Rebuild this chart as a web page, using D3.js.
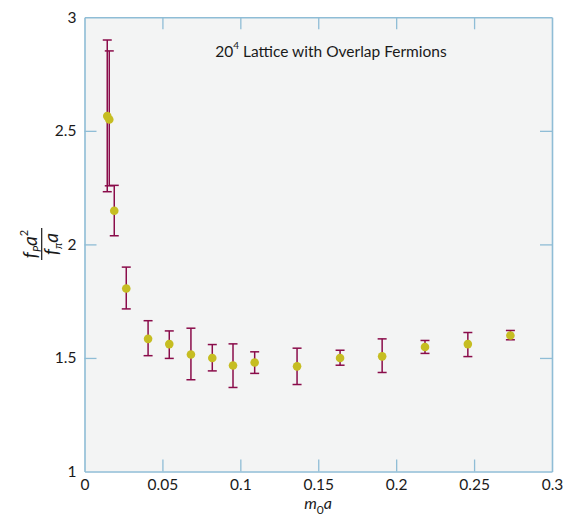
<!DOCTYPE html>
<html>
<head>
<meta charset="utf-8">
<script src="https://cdn.jsdelivr.net/npm/d3@7"></script>
<style>
  html, body { margin: 0; padding: 0; background: #ffffff; }
  svg { display: block; }
  text { font-family: Lato, "Open Sans", sans-serif; fill: #1a1a1a; }
</style>
</head>
<body>
<svg id="chart" width="565" height="519"></svg>
<script>
// ---- data ----
const massValues = [0.0146, 0.0159, 0.0191, 0.0268, 0.0408, 0.0544, 0.0683, 0.0820, 0.0953, 0.1092, 0.1364, 0.1640, 0.1910, 0.2185, 0.2460, 0.2733];
const ratioValues = [2.565, 2.550, 2.148, 1.806, 1.584, 1.561, 1.515, 1.500, 1.467, 1.480, 1.463, 1.500, 1.507, 1.548, 1.561, 1.599];
const errorUpper = [2.900, 2.852, 2.260, 1.900, 1.664, 1.619, 1.631, 1.559, 1.562, 1.527, 1.543, 1.534, 1.584, 1.577, 1.612, 1.621];
const errorLower = [2.232, 2.258, 2.038, 1.716, 1.510, 1.498, 1.404, 1.443, 1.370, 1.432, 1.383, 1.468, 1.436, 1.520, 1.506, 1.580];
const xTickValues = [0, 0.05, 0.1, 0.15, 0.2, 0.25, 0.3];
const xTickLabels = ["0", "0.05", "0.1", "0.15", "0.2", "0.25", "0.3"];
const yTickValues = [1, 1.5, 2, 2.5, 3];
const yTickLabels = ["1", "1.5", "2", "2.5", "3"];

const points = massValues.map((m, i) => ({ m, r: ratioValues[i], hi: errorUpper[i], lo: errorLower[i] }));

// ---- layout ----
const plotL = 84.5, plotR = 552, plotT = 17.3, plotB = 471.5;
const axisColor = "#8fbdd6";
const barColor = "#8a0c4a";
const dotColor = "#c6bd22";
const fontFam = "Lato, 'Open Sans', sans-serif";

const svg = d3.select("#chart");
const x = d3.scaleLinear().domain([0, 0.3]).range([plotL, plotR]);
const y = d3.scaleLinear().domain([1, 3]).range([plotB, plotT]);

// plot background
svg.append("rect")
  .attr("x", plotL).attr("y", plotT)
  .attr("width", plotR - plotL).attr("height", plotB - plotT)
  .attr("fill", "#f3f4f4");

const tickLen = 12;
const xTickFmt = d => xTickLabels[xTickValues.indexOf(d)];
const yTickFmt = d => yTickLabels[yTickValues.indexOf(d)];

function styleAxis(g) {
  g.select(".domain").attr("stroke", axisColor).attr("stroke-width", 1.6);
  g.selectAll(".tick line").attr("stroke", axisColor).attr("stroke-width", 1.3);
  g.selectAll(".tick text").attr("fill", "#1a1a1a").style("font-size", "15.5px")
    .style("font-family", fontFam);
}

// bottom axis
const gx = svg.append("g").attr("transform", `translate(0,${plotB})`)
  .call(d3.axisBottom(x).tickValues(xTickValues).tickFormat(xTickFmt)
    .tickSizeInner(-tickLen).tickSizeOuter(0));
styleAxis(gx);
gx.selectAll(".tick text").attr("y", 18).attr("dy", null);
gx.selectAll(".tick line").filter(d => d === 0 || d === 0.3).remove();

// top axis
const gxt = svg.append("g").attr("transform", `translate(0,${plotT})`)
  .call(d3.axisTop(x).tickValues(xTickValues).tickFormat("")
    .tickSizeInner(-tickLen).tickSizeOuter(0));
styleAxis(gxt);
gxt.selectAll(".tick line").filter(d => d === 0 || d === 0.3).remove();

// left axis
const gy = svg.append("g").attr("transform", `translate(${plotL},0)`)
  .call(d3.axisLeft(y).tickValues(yTickValues).tickFormat(yTickFmt)
    .tickSizeInner(-tickLen).tickSizeOuter(0));
styleAxis(gy);
gy.selectAll(".tick text").attr("x", -8);
gy.selectAll(".tick line").filter(d => d === 1 || d === 3).remove();

// right axis
const gyr = svg.append("g").attr("transform", `translate(${plotR},0)`)
  .call(d3.axisRight(y).tickValues(yTickValues).tickFormat("")
    .tickSizeInner(-tickLen).tickSizeOuter(0));
styleAxis(gyr);
gyr.selectAll(".tick line").filter(d => d === 1 || d === 3).remove();

// error bars
const capW = 4.5;
const eb = svg.append("g").attr("stroke", barColor).attr("stroke-width", 1.5);
eb.selectAll("line.v").data(points).join("line").attr("class", "v")
  .attr("x1", d => x(d.m)).attr("x2", d => x(d.m))
  .attr("y1", d => y(d.hi)).attr("y2", d => y(d.lo));
eb.selectAll("line.t").data(points).join("line").attr("class", "t")
  .attr("x1", d => x(d.m) - capW).attr("x2", d => x(d.m) + capW)
  .attr("y1", d => y(d.hi)).attr("y2", d => y(d.hi));
eb.selectAll("line.b").data(points).join("line").attr("class", "b")
  .attr("x1", d => x(d.m) - capW).attr("x2", d => x(d.m) + capW)
  .attr("y1", d => y(d.lo)).attr("y2", d => y(d.lo));

// points
svg.append("g").selectAll("circle").data(points).join("circle")
  .attr("cx", d => x(d.m)).attr("cy", d => y(d.r)).attr("r", 4.3)
  .attr("fill", dotColor);

// title
const title = svg.append("text").attr("x", 331).attr("y", 57)
  .attr("text-anchor", "middle").style("font-size", "15.5px");
title.append("tspan").text("20");
title.append("tspan").attr("dy", -8).style("font-size", "10px").text("4");
title.append("tspan").attr("dy", 8).text(" Lattice with Overlap Fermions");

// x axis title
const xt = svg.append("text").attr("x", 318).attr("y", 509)
  .attr("text-anchor", "middle").style("font-size", "16px").style("font-style", "italic");
xt.append("tspan").text("m");
xt.append("tspan").attr("dy", 5).style("font-size", "12px").style("font-style", "normal").text("0");
xt.append("tspan").attr("dy", -5).text("a");

// y axis title (rotated fraction)
const yl = svg.append("g").attr("transform", "translate(41.7,244) rotate(-90)");
yl.append("line").attr("x1", -16).attr("x2", 16).attr("y1", 0).attr("y2", 0)
  .attr("stroke", "#1a1a1a").attr("stroke-width", 1.2);
const num = yl.append("text").attr("x", 0).attr("y", -5).attr("text-anchor", "middle")
  .style("font-size", "19px").style("font-style", "italic");
num.append("tspan").text("f");
num.append("tspan").attr("dy", 4).style("font-size", "11px").text("P");
num.append("tspan").attr("dy", -4).text("a");
num.append("tspan").attr("dy", -9).style("font-size", "11px").style("font-style", "normal").text("2");
const den = yl.append("text").attr("x", 0).attr("y", 16).attr("text-anchor", "middle")
  .style("font-size", "19px").style("font-style", "italic");
den.append("tspan").text("f");
den.append("tspan").attr("dy", 4).style("font-size", "11px").text("π");
den.append("tspan").attr("dy", -4).text("a");
</script>
</body>
</html>
